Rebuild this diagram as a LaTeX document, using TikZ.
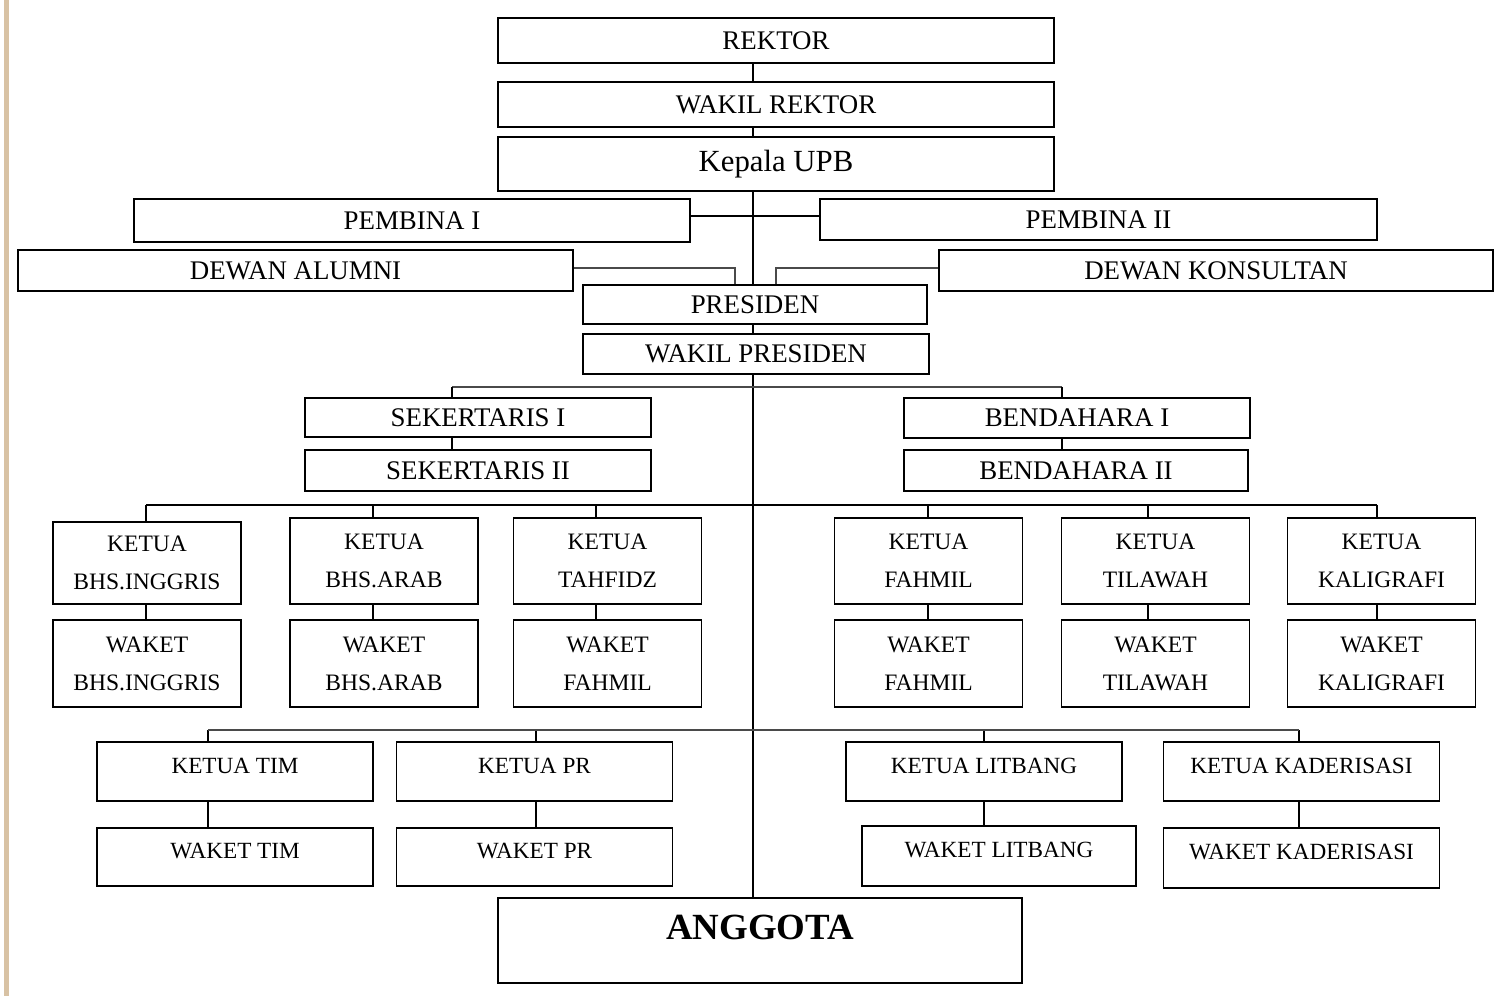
\documentclass[tikz,border=0pt]{standalone}
\usepackage{fontspec}
\setmainfont{Liberation Serif}
\usepackage{tikz}
\usetikzlibrary{calc}
\definecolor{linegray}{HTML}{4A4A4A}
\definecolor{edgetan}{HTML}{D8C2A4}

\begin{document}
\begin{tikzpicture}[x=0.02cm,y=-0.02cm,
  box/.style={draw,line width=1pt,inner sep=0pt,font=\fontsize{15.3}{18}\selectfont},
  unit/.style={draw,line width=1pt,inner sep=0pt,align=center,minimum width=3.76cm,font=\fontsize{13.4}{21.6}\selectfont},
  team/.style={draw,line width=1pt,inner sep=0pt,text depth=7pt,minimum width=5.52cm,font=\fontsize{13.2}{16}\selectfont},
  link/.style={line width=0.9pt},
  dlink/.style={line width=1.4pt,linegray}]
  \useasboundingbox (0,0) rectangle (1494,996);
  \fill[edgetan] (4,0) rectangle (9,996);

  \node[box,minimum width=11.12cm,minimum height=0.90cm] (rektor) at (776,40.5) {REKTOR};
  \node[box,minimum width=11.12cm,minimum height=0.90cm] (wrektor) at (776,104.5) {WAKIL REKTOR};
  \node[box,minimum width=11.12cm,minimum height=1.08cm,font=\fontsize{17.5}{20}\selectfont] (kupb) at (776,164) {Kepala UPB};
  \node[box,minimum width=11.12cm,minimum height=0.86cm] (pembA) at (412,220.5) {PEMBINA I};
  \node[box,minimum width=11.14cm,minimum height=0.82cm] (pembB) at (1098.5,219.5) {PEMBINA II};
  \node[box,minimum width=11.10cm,minimum height=0.82cm] (alumni) at (295.5,270.5) {DEWAN ALUMNI};
  \node[box,minimum width=11.08cm,minimum height=0.82cm] (konsul) at (1216,270.5) {DEWAN KONSULTAN};
  \node[box,minimum width=6.88cm,minimum height=0.78cm] (pres) at (755,304.5) {PRESIDEN};
  \node[box,minimum width=6.92cm,minimum height=0.80cm] (wpres) at (756,354) {WAKIL PRESIDEN};
  \node[box,minimum width=6.92cm,minimum height=0.78cm] (sekA) at (478,417.5) {SEKERTARIS I};
  \node[box,minimum width=6.92cm,minimum height=0.82cm] (sekB) at (478,470.5) {SEKERTARIS II};
  \node[box,minimum width=6.92cm,minimum height=0.80cm] (benA) at (1077,418) {BENDAHARA I};
  \node[box,minimum width=6.88cm,minimum height=0.82cm] (benB) at (1076,470.5) {BENDAHARA II};

  \node[unit,minimum height=1.64cm] (kInggris) at (147,563) {KETUA\\BHS.INGGRIS};
  \node[unit,minimum height=1.72cm] (kArab) at (384,561) {KETUA\\BHS.ARAB};
  \node[unit,minimum height=1.72cm] (kTahfidz) at (607.5,561) {KETUA\\TAHFIDZ};
  \node[unit,minimum height=1.72cm] (kFahmil) at (928.5,561) {KETUA\\FAHMIL};
  \node[unit,minimum height=1.72cm] (kTilawah) at (1155.5,561) {KETUA\\TILAWAH};
  \node[unit,minimum height=1.72cm] (kKaligrafi) at (1381.5,561) {KETUA\\KALIGRAFI};
  \node[unit,minimum height=1.74cm] (wInggris) at (147,663.5) {WAKET\\BHS.INGGRIS};
  \node[unit,minimum height=1.74cm] (wArab) at (384,663.5) {WAKET\\BHS.ARAB};
  \node[unit,minimum height=1.74cm] (wTahfidz) at (607.5,663.5) {WAKET\\FAHMIL};
  \node[unit,minimum height=1.74cm] (wFahmil) at (928.5,663.5) {WAKET\\FAHMIL};
  \node[unit,minimum height=1.74cm] (wTilawah) at (1155.5,663.5) {WAKET\\TILAWAH};
  \node[unit,minimum height=1.74cm] (wKaligrafi) at (1381.5,663.5) {WAKET\\KALIGRAFI};

  \node[team,minimum height=1.18cm] (kTim) at (235,771.5) {KETUA TIM};
  \node[team,minimum height=1.18cm] (kPR) at (534.5,771.5) {KETUA PR};
  \node[team,minimum height=1.18cm] (kLitbang) at (984,771.5) {KETUA LITBANG};
  \node[team,minimum height=1.18cm] (kKader) at (1301.5,771.5) {KETUA KADERISASI};
  \node[team,minimum height=1.16cm] (wTim) at (235,857) {WAKET TIM};
  \node[team,minimum height=1.16cm] (wPR) at (534.5,857) {WAKET PR};
  \node[team,minimum height=1.20cm,minimum width=5.48cm] (wLitbang) at (999,856) {WAKET LITBANG};
  \node[team,minimum height=1.20cm] (wKader) at (1301.5,858) {WAKET KADERISASI};

  \node[draw,line width=1pt,inner sep=0pt,minimum width=10.48cm,minimum height=1.70cm,text depth=15pt,font=\fontsize{21}{24}\bfseries\selectfont] (anggota) at (760,940.5) {ANGGOTA};

  \coordinate (spine) at (753,0);
  \coordinate (pembjoin) at (753,216);
  \coordinate (alumnijoin) at (735,268);
  \coordinate (konsuljoin) at (776,268);
  \coordinate (sekjoin) at (452,387);
  \coordinate (benjoin) at (1062,387);

  \draw[link] (rektor.south -| spine) -- (wrektor.north -| spine);
  \draw[link] (wrektor.south -| spine) -- (kupb.north -| spine);
  \draw[link] (kupb.south -| spine) -- (pres.north -| spine);
  \draw[link] (pembA.east |- pembjoin) -- (pembB.west |- pembjoin);
  \draw[dlink] (alumni.east |- alumnijoin) -| (pres.north -| alumnijoin);
  \draw[dlink] (konsul.west |- konsuljoin) -| (pres.north -| konsuljoin);
  \draw[link] (pres.south -| spine) -- (wpres.north -| spine);
  \draw[link] (wpres.south -| spine) -- (anggota.north -| spine);

  \draw[dlink] (sekjoin) -- (benjoin);
  \draw[link] (sekjoin) -- (sekA.north -| sekjoin);
  \draw[link] (benjoin) -- (benA.north -| benjoin);
  \draw[link] (sekA.south -| sekjoin) -- (sekB.north -| sekjoin);
  \draw[link] (benA.south -| benjoin) -- (benB.north -| benjoin);

  \foreach \k/\x in {Inggris/146,Arab/373,Tahfidz/596,Fahmil/928,Tilawah/1148,Kaligrafi/1377}{
    \coordinate (d\k) at (\x,505);
    \draw[link] (d\k) -- (k\k.north -| d\k);
    \draw[link] (k\k.south -| d\k) -- (w\k.north -| d\k);
  }
  \draw[link] (dInggris) -- (dKaligrafi);

  \foreach \k/\x in {Tim/208,PR/536,Litbang/984,Kader/1299}{
    \coordinate (d\k) at (\x,730);
    \draw[link] (d\k) -- (k\k.north -| d\k);
    \draw[link] (k\k.south -| d\k) -- (w\k.north -| d\k);
  }
  \draw[dlink] (dTim) -- (dKader);
\end{tikzpicture}
\end{document}
